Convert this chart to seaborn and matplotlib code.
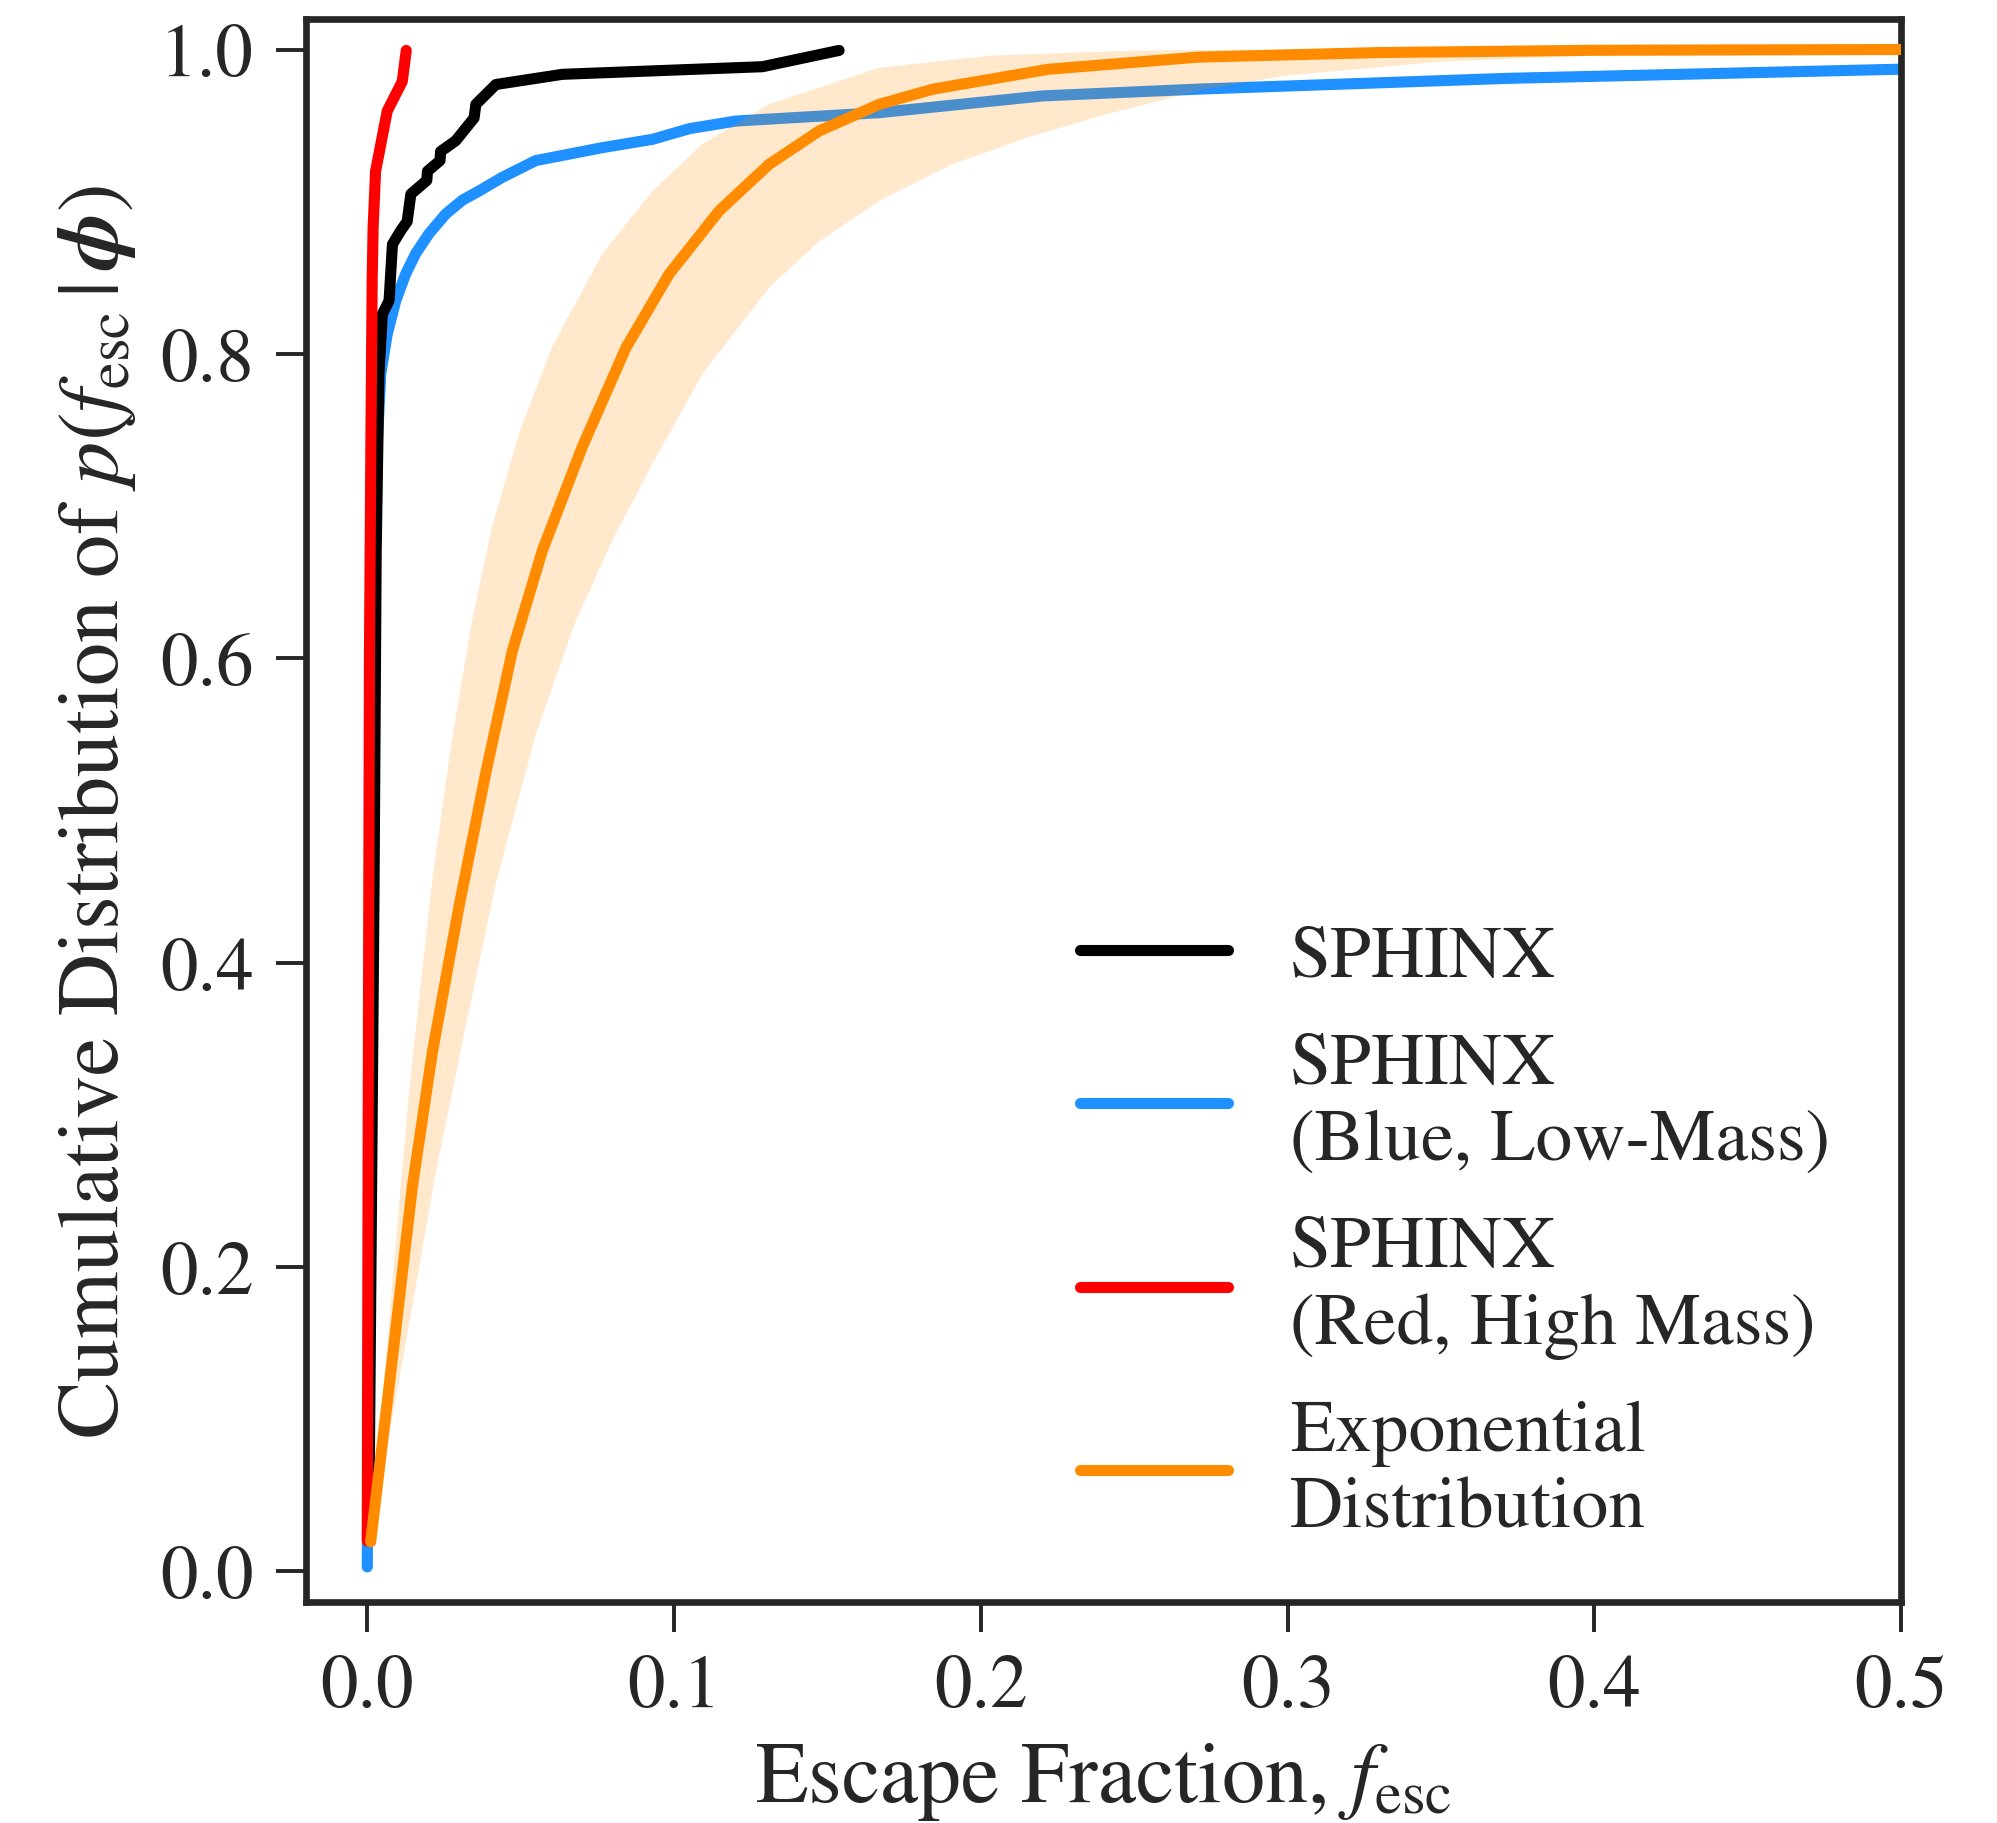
import numpy as np
import pandas as pd
import seaborn as sns
import matplotlib.pyplot as plt
from matplotlib.lines import Line2D


# SPHINX cumulative distributions
sphinx_x = [0.0005, 0.0012, 0.0022, 0.0029, 0.0038, 0.0049, 0.0071, 0.0082, 0.0109, 0.013,
            0.0142, 0.0194, 0.0196, 0.0237, 0.0239, 0.0288, 0.0348, 0.0354, 0.0419, 0.0636,
            0.1288, 0.1538]
sphinx_y = [0.03, 0.2, 0.45, 0.671, 0.787, 0.826, 0.835, 0.872, 0.881, 0.887,
            0.905, 0.914, 0.920, 0.927, 0.933, 0.940, 0.955, 0.964, 0.977, 0.9837,
            0.9887, 0.9994]

blue_x = [0.0, 0.0008, 0.0016, 0.0025, 0.0033, 0.0044, 0.0065, 0.0093, 0.0125, 0.0158,
          0.0201, 0.0256, 0.031, 0.0364, 0.044, 0.0549, 0.0766, 0.093, 0.105, 0.1202, 0.1669,
          0.22, 0.2712, 0.371, 0.4985, 0.52]
blue_y = [0.003, 0.3, 0.55, 0.671, 0.743, 0.787, 0.813, 0.835, 0.8525, 0.866,
          0.879, 0.892, 0.901, 0.907, 0.916, 0.927, 0.9355, 0.941, 0.948, 0.953, 0.9585,
          0.9695, 0.974, 0.981, 0.987, 0.988]

red_x = [0.0, 0.0003, 0.0007, 0.0012, 0.0016, 0.0019, 0.0027, 0.0065, 0.0114, 0.0127]
red_y = [0.02, 0.3, 0.6, 0.75, 0.85, 0.883, 0.920, 0.9596, 0.979, 0.9994]

# exponential distribution fit
expo_x = [0.0011, 0.0083, 0.0147, 0.0212, 0.0299, 0.0386, 0.0473, 0.0571, 0.0701, 0.0843,
          0.0984, 0.1147, 0.131, 0.1473, 0.1669, 0.1845, 0.222, 0.271, 0.33, 0.4, 0.5]
expo_y = [0.0195, 0.142, 0.253, 0.341, 0.437, 0.5245, 0.605, 0.671, 0.739, 0.804,
          0.8525, 0.894, 0.9246, 0.9465, 0.964, 0.974, 0.987, 0.995, 0.998, 0.9995, 1.0]

# spread of the fit: upper and lower edges
upper_x = [0.0011, 0.0038, 0.0082, 0.0114, 0.0141, 0.0212, 0.0277, 0.0342, 0.0405, 0.0495,
           0.0603, 0.0766, 0.093, 0.1093, 0.131, 0.1669, 0.2033, 0.25, 0.3, 0.5]
upper_y = [0.0195, 0.085, 0.19, 0.265, 0.325, 0.455, 0.548, 0.625, 0.685, 0.748,
           0.805, 0.8656, 0.907, 0.938, 0.964, 0.988, 0.996, 0.9993, 1.0, 1.0]
lower_x = [0.0011, 0.0038, 0.0136, 0.0223, 0.0305, 0.0419, 0.0549, 0.068, 0.0805, 0.093,
           0.1093, 0.131, 0.1473, 0.1669, 0.19, 0.215, 0.24, 0.271, 0.3, 0.35, 0.4, 0.45, 0.5]
lower_y = [0.0195, 0.052, 0.162, 0.262, 0.343, 0.452, 0.550, 0.625, 0.680, 0.728,
           0.787, 0.8437, 0.874, 0.9006, 0.924, 0.942, 0.957, 0.973, 0.983, 0.992, 0.996, 0.998, 0.999]

labels = ['SPHINX', 'SPHINX\n(Blue, Low-Mass)', 'SPHINX\n(Red, High Mass)', 'Exponential\nDistribution']
colors = ['black', 'dodgerblue', 'red', 'darkorange']

sns.set_theme(style='ticks')
plt.rcParams['font.family'] = ['STIXGeneral', 'DejaVu Serif']
plt.rcParams['mathtext.fontset'] = 'stix'
plt.rcParams['axes.edgecolor'] = '#262626'
plt.rcParams['text.color'] = '#262626'

fig = plt.figure(figsize=(9.985, 9.12), dpi=200)
ax = fig.add_axes([0.1532, 0.1212, 0.7988, 0.8678])

lw = 4.0
kw = dict(ax=ax, linewidth=lw, sort=False, estimator=None, legend=False,
          solid_capstyle='round')
sns.lineplot(x=blue_x, y=blue_y, color=colors[1], zorder=2, **kw)
sns.lineplot(x=sphinx_x, y=sphinx_y, color=colors[0], zorder=3, **kw)
sns.lineplot(x=red_x, y=red_y, color=colors[2], zorder=4, **kw)
ax.fill(upper_x + lower_x[::-1], upper_y + lower_y[::-1], color='darkorange',
        alpha=0.2, lw=0, zorder=5)
sns.lineplot(x=expo_x, y=expo_y, color=colors[3], zorder=6, **kw)

ax.set_xlim(-0.02, 0.5)
ax.set_ylim(-0.02, 1.02)
ax.set_xticks([0.0, 0.1, 0.2, 0.3, 0.4, 0.5])
ax.set_yticks([0.0, 0.2, 0.4, 0.6, 0.8, 1.0])
ax.xaxis.set_major_formatter(plt.FuncFormatter(lambda v, p: f'{v:.1f}'))
ax.yaxis.set_major_formatter(plt.FuncFormatter(lambda v, p: f'{v:.1f}'))
ax.tick_params(axis='both', labelsize=27, length=10.8, width=1.4, pad=8, color='#262626')
for s in ax.spines.values():
    s.set_linewidth(2.4)

ax.set_xlabel(r'Escape Fraction, $f_{\rm esc}$', fontsize=31, labelpad=6)
ax.set_ylabel(r'Cumulative Distribution of $p(f_{\rm esc}\,|\,\mathbfit{\phi})$', fontsize=31, labelpad=8)

handles = [Line2D([], [], color=c, lw=lw, solid_capstyle='round') for c in colors]
ax.legend(handles, labels, loc='lower right', bbox_to_anchor=(0.997, -0.004), frameon=False,
          fontsize=26.5, handlelength=2.0, handletextpad=0.85, labelspacing=0.55)

plt.savefig('out.png', dpi=200)
